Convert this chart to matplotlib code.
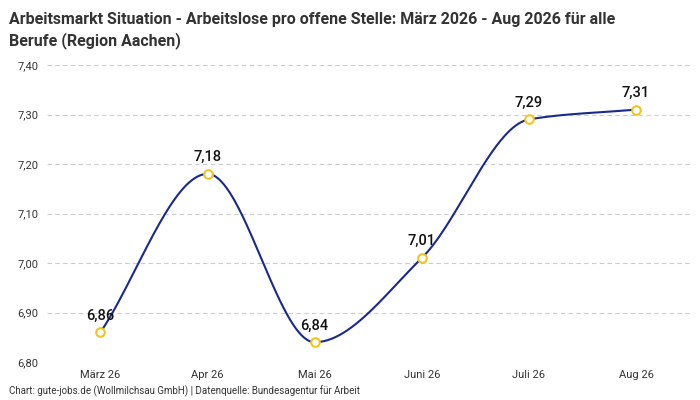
import numpy as np
import matplotlib
matplotlib.use("Agg")
import matplotlib.pyplot as plt

plt.rcParams['font.family'] = ['Roboto', 'DejaVu Sans']

categories = ["März 26", "Apr 26", "Mai 26", "Juni 26", "Juli 26", "Aug 26"]
values = [6.86, 7.18, 6.84, 7.01, 7.29, 7.31]
yticks = [6.80, 6.90, 7.00, 7.10, 7.20, 7.30, 7.40]

def monotone(x, y, n=400):
    x = np.asarray(x, float); y = np.asarray(y, float)
    h = np.diff(x); d = np.diff(y) / h
    m = np.zeros_like(y)
    m[0], m[-1] = d[0], d[-1]
    for i in range(1, len(y) - 1):
        if d[i-1] * d[i] <= 0:
            m[i] = 0
        else:
            m[i] = 3 * (h[i-1] + h[i]) / ((2*h[i] + h[i-1]) / d[i-1] + (h[i] + 2*h[i-1]) / d[i])
    xs = np.linspace(x[0], x[-1], n); ys = np.empty_like(xs)
    for k, xv in enumerate(xs):
        i = min(np.searchsorted(x, xv, side='right') - 1, len(x) - 2)
        t = (xv - x[i]) / h[i]
        h00 = 2*t**3 - 3*t**2 + 1; h10 = t**3 - 2*t**2 + t
        h01 = -2*t**3 + 3*t**2; h11 = t**3 - t**2
        ys[k] = h00*y[i] + h10*h[i]*m[i] + h01*y[i+1] + h11*h[i]*m[i+1]
    return xs, ys

fig = plt.figure(figsize=(7, 4), dpi=100)
ax = fig.add_axes([0.067, 0.095, 0.918, 0.7425])
x = np.arange(len(values))
xs, ys = monotone(x, values)
ax.plot(xs, ys, color='#1a2a8c', lw=1.5, zorder=2)
ax.scatter(x, values, s=38, facecolor='white', edgecolor='#f5c518', linewidth=1.5, zorder=3)
for xi, v in zip(x, values):
    ax.annotate(f"{v:.2f}".replace('.', ','), (xi, v), xytext=(0, 7), textcoords='offset points',
                ha='center', va='bottom', fontsize=10.5, fontweight='medium', color='#111111')
ax.set_xlim(-0.5, 5.5)
ax.set_ylim(6.80, 7.40)
ax.set_yticks(yticks)
ax.set_yticklabels([f"{t:.2f}".replace('.', ',') for t in yticks], fontsize=8, color='#333333')
ax.set_xticks(x)
ax.set_xticklabels(categories, fontsize=8, color='#333333')
ax.grid(axis='y', color='#cccccc', linestyle=(0, (4, 3)), lw=0.8)
ax.set_axisbelow(True)
for s in ax.spines.values():
    s.set_visible(False)
ax.tick_params(length=0, pad=6)
fig.text(0.013, 0.97, "Arbeitsmarkt Situation - Arbeitslose pro offene Stelle: März 2026 - Aug 2026 für alle\nBerufe (Region Aachen)",
         ha='left', va='top', fontsize=11.5, fontweight='bold', color='#333333', linespacing=1.35)
fig.text(0.013, 0.008, "Chart: gute-jobs.de (Wollmilchsau GmbH) | Datenquelle: Bundesagentur für Arbeit",
         ha='left', va='bottom', fontsize=7, color='#333333')
fig.savefig("out.png", dpi=100)
